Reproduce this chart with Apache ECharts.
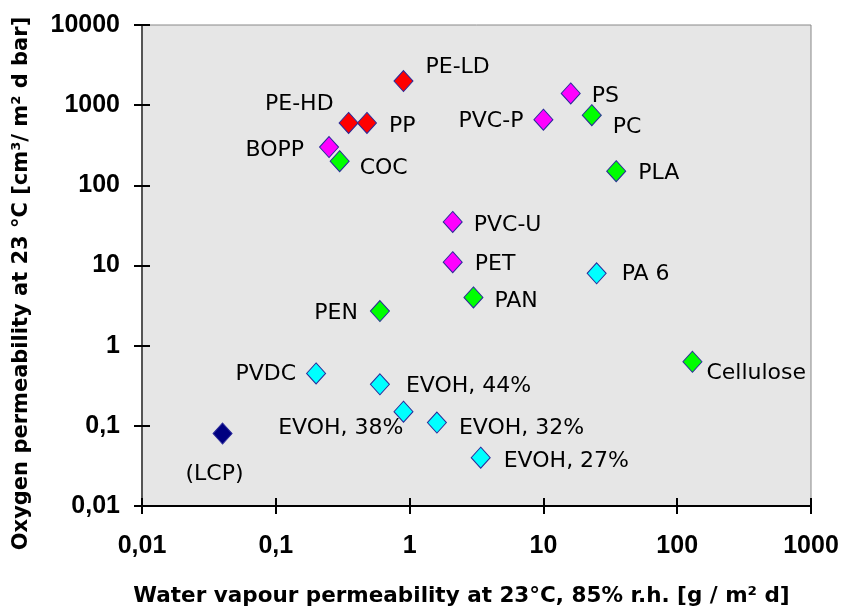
<!DOCTYPE html>
<html>
<head>
<meta charset="utf-8">
<script src="https://cdn.jsdelivr.net/npm/echarts@6/dist/echarts.min.js"></script>
<style>
html,body{margin:0;padding:0;background:#fff;}
#chart{width:842px;height:612px;}
</style>
</head>
<body>
<div id="chart"></div>
<script>
// ---------------- data ----------------
const materials = ['PE-LD','PE-HD','PP','BOPP','COC','PVC-P','PS','PC','PLA','PVC-U','PET','PAN','PEN','PA 6','Cellulose','PVDC','EVOH, 44%','EVOH, 38%','EVOH, 32%','EVOH, 27%','(LCP)'];
const waterVapour = [0.9, 0.35, 0.48, 0.25, 0.3, 10, 16, 23, 35, 2.1, 2.1, 3, 0.6, 25, 130, 0.2, 0.6, 0.9, 1.6, 3.4, 0.04];
const oxygen = [2000, 600, 600, 300, 200, 660, 1400, 750, 150, 35, 11, 4, 2.7, 8, 0.63, 0.45, 0.33, 0.15, 0.11, 0.04, 0.08];
const groups = ['red','red','red','magenta','green','magenta','magenta','green','green','magenta','magenta','green','green','cyan','green','cyan','cyan','cyan','cyan','cyan','navy'];
const xTickLabels = ['0,01','0,1','1','10','100','1000'];
const yTickLabels = ['0,01','0,1','1','10','100','1000','10000'];
const xTitle = 'Water vapour permeability at 23°C, 85% r.h. [g / m² d]';
const yTitle = 'Oxygen permeability at 23 °C [cm³/ m² d bar]';

// ---------------- styles ----------------
const colorMap = {red:'#ff0000', magenta:'#ff00ff', green:'#00ff00', cyan:'#00ffff', navy:'#000080'};
// label placement: [dx, dy, align]
const labelPlace = {
  'PE-LD':[22,-14,'left'], 'PE-HD':[-15,-19,'right'], 'PP':[22,3,'left'], 'BOPP':[-25,3,'right'],
  'COC':[20,7,'left'], 'PVC-P':[-20,2,'right'], 'PS':[21,3,'left'], 'PC':[21,12,'left'],
  'PLA':[22,2,'left'], 'PVC-U':[21,3,'left'], 'PET':[22,2,'left'], 'PAN':[21,4,'left'],
  'PEN':[-22,2,'right'], 'PA 6':[25,1,'left'], 'Cellulose':[14,12,'left'], 'PVDC':[-20,1,'right'],
  'EVOH, 44%':[26,2,'left'], 'EVOH, 38%':[0,17,'right'], 'EVOH, 32%':[22,6,'left'],
  'EVOH, 27%':[23,4,'left'], '(LCP)':[-8,41,'center']
};

const data = materials.map((m, i) => {
  const p = labelPlace[m];
  return {
    name: m,
    value: [waterVapour[i], oxygen[i]],
    itemStyle: {color: colorMap[groups[i]], borderColor: '#2a2a9a', borderWidth: 1, opacity: 1},
    label: {
      show: true, position: 'inside', formatter: m, align: p[2], verticalAlign: 'middle',
      offset: [p[0], p[1]], color: '#000', fontFamily: 'DejaVu Sans', fontSize: 22,
      textBorderWidth: 0, opacity: 1
    }
  };
});

const idx = v => Math.round(Math.log10(v));
const chart = echarts.init(document.getElementById('chart'), null, {renderer: 'canvas'});
chart.setOption({
  animation: false,
  backgroundColor: '#ffffff',
  grid: {left: 142, right: 31, top: 25, bottom: 104, show: true, backgroundColor: '#e6e6e6', borderColor: '#888', borderWidth: 1},
  xAxis: [{
    type: 'log', logBase: 10, min: 0.01, max: 1000, position: 'bottom',
    axisLine: {show: true, lineStyle: {color: '#000', width: 2}},
    axisTick: {show: true, inside: false, length: 8, lineStyle: {color: '#000', width: 2}},
    splitLine: {show: false}, minorTick: {show: false},
    axisLabel: {margin: 28, fontFamily: 'Liberation Sans', fontWeight: 'bold', fontSize: 25, color: '#000',
      formatter: v => xTickLabels[idx(v) + 2]},
    name: xTitle, nameLocation: 'middle', nameGap: 79,
    nameTextStyle: {fontFamily: 'DejaVu Sans', fontWeight: 'bold', fontSize: 21.5, color: '#000', padding: [0, 30, 0, 0]}
  }, {
    type: 'log', logBase: 10, min: 0.01, max: 1000, position: 'bottom', gridIndex: 0,
    axisLine: {show: false}, axisLabel: {show: false}, splitLine: {show: false},
    axisTick: {show: true, inside: true, length: 8, lineStyle: {color: '#000', width: 2}}
  }],
  yAxis: [{
    type: 'log', logBase: 10, min: 0.01, max: 10000, position: 'left',
    axisLine: {show: true, lineStyle: {color: '#555', width: 2}},
    axisTick: {show: true, inside: false, length: 8, lineStyle: {color: '#000', width: 2}},
    splitLine: {show: false},
    axisLabel: {margin: 22, fontFamily: 'Liberation Sans', fontWeight: 'bold', fontSize: 25, color: '#000',
      formatter: v => yTickLabels[idx(v) + 2]},
    name: yTitle, nameLocation: 'middle', nameGap: 110,
    nameTextStyle: {fontFamily: 'DejaVu Sans', fontWeight: 'bold', fontSize: 21, color: '#000', padding: [0, 36, 0, 0]}
  }, {
    type: 'log', logBase: 10, min: 0.01, max: 10000, position: 'left', gridIndex: 0,
    axisLine: {show: false}, axisLabel: {show: false}, splitLine: {show: false},
    axisTick: {show: true, inside: true, length: 8, lineStyle: {color: '#000', width: 2}}
  }],
  series: [{
    type: 'scatter', xAxisIndex: 0, yAxisIndex: 0,
    symbol: 'diamond', symbolSize: [19, 21],
    itemStyle: {opacity: 1},
    data: data
  }]
});
</script>
</body>
</html>
